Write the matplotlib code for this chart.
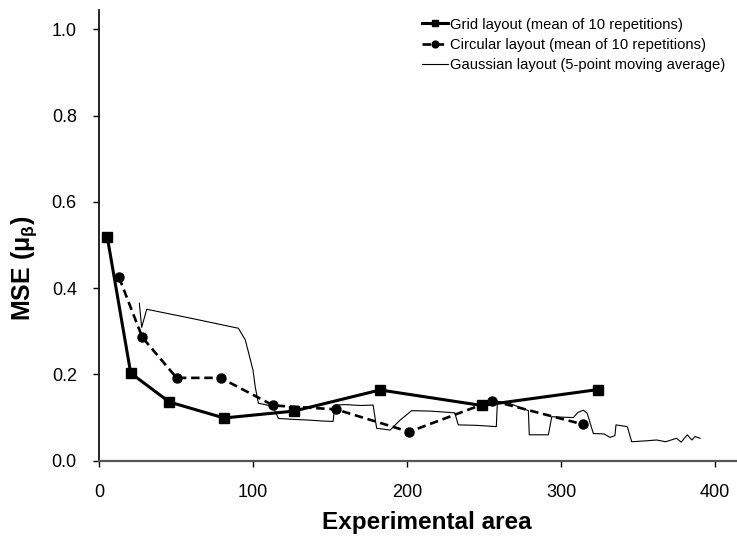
import matplotlib
matplotlib.use("Agg")
import matplotlib.pyplot as plt

plt.rcParams['font.family'] = ['Liberation Sans', 'DejaVu Sans']
plt.rcParams['mathtext.fontset'] = 'custom'
plt.rcParams['mathtext.rm'] = 'Liberation Sans:bold'
plt.rcParams['mathtext.it'] = 'Liberation Sans:bold'
plt.rcParams['mathtext.bf'] = 'Liberation Sans:bold'

grid_x = [5.4, 20.6, 45.7, 81.2, 126.6, 182.5, 248.5, 324.2]
grid_y = [0.518, 0.203, 0.136, 0.099, 0.115, 0.164, 0.128, 0.165]

circ_x = [13.0, 28.1, 50.4, 79.0, 113.2, 153.9, 201.4, 255.4, 314.5]
circ_y = [0.425, 0.286, 0.192, 0.192, 0.128, 0.119, 0.067, 0.139, 0.084]

gauss_x = [26.2, 27.7, 31.0, 60.0, 90.5, 95.0, 100.0, 101.5, 103.5, 108.0, 113.0,
           116.5, 125.0, 137.0, 145.0, 152.0, 153.2, 160.0, 170.0, 178.0, 180.3,
           185.0, 189.0, 195.5, 203.0, 215.0, 231.0, 233.3, 245.0, 258.0, 258.7,
           265.0, 278.8, 279.4, 291.8, 294.0, 300.0, 308.0, 311.0, 314.5, 317.0,
           321.0, 328.0, 331.8, 335.0, 335.7, 343.0, 343.7, 345.9, 355.0, 362.0,
           368.0, 375.0, 378.0, 382.0, 385.0, 387.0, 390.3]
gauss_y = [0.365, 0.309, 0.351, 0.330, 0.307, 0.280, 0.210, 0.170, 0.133, 0.130, 0.125,
           0.098, 0.096, 0.094, 0.092, 0.091, 0.129, 0.130, 0.128, 0.129, 0.075,
           0.073, 0.071, 0.094, 0.116, 0.115, 0.111, 0.083, 0.082, 0.079, 0.137,
           0.135, 0.116, 0.060, 0.060, 0.102, 0.101, 0.100, 0.112, 0.117, 0.110,
           0.063, 0.062, 0.054, 0.058, 0.083, 0.079, 0.071, 0.044, 0.046, 0.048,
           0.044, 0.052, 0.043, 0.060, 0.048, 0.056, 0.052]

x_ticks = [0, 100, 200, 300, 400]
y_ticks = [0.0, 0.2, 0.4, 0.6, 0.8, 1.0]
y_tick_labels = ['0.0', '0.2', '0.4', '0.6', '0.8', '1.0']

W, H = 737, 536
fig = plt.figure(figsize=(W/100, H/100), dpi=100)
ax = fig.add_axes([99/W, 1 - 460.7/H, 1 - 99/W, (460.7 - 10)/H])

ax.plot(gauss_x, gauss_y, color='black', lw=0.8,
        label='Gaussian layout (5-point moving average)', zorder=2)
ax.plot(grid_x, grid_y, color='black', lw=2.2, marker='s', ms=6.5,
        label='Grid layout (mean of 10 repetitions)', zorder=3)
ax.plot(circ_x, circ_y, color='black', lw=1.9, ls=(0, (3.2, 1.8)), marker='o', ms=6.5,
        label='Circular layout (mean of 10 repetitions)', zorder=3)

ax.set_xlim(0, (W - 99)/1.54)
ax.set_ylim(0, (460.7 - 10)/431.4)
ax.set_xticks(x_ticks)
ax.set_yticks(y_ticks)
ax.set_yticklabels(y_tick_labels)
ax.tick_params(direction='out', length=4, width=1, labelsize=13)
ax.tick_params(axis='x', pad=13)
ax.tick_params(axis='y', pad=12)
for s in ['top', 'right']:
    ax.spines[s].set_visible(False)
ax.spines['left'].set_linewidth(1.2)
ax.spines['bottom'].set_linewidth(1.6)
ax.spines['bottom'].set_color('#555555')

ax.set_xlabel('Experimental area', fontsize=17.5, fontweight='bold', va='center')
ax.xaxis.set_label_coords((427 - 99)/638, -(522 - 460.7)/450.7)
ax.set_ylabel(r'MSE (μ$_\beta$)', fontsize=18, fontweight='bold',
              rotation_mode='default', ha='center', va='bottom')
ax.yaxis.set_label_coords((24 - 99)/638, (460.7 - 321)/450.7)

h, l = ax.get_legend_handles_labels()
order = [1, 2, 0]
leg = ax.legend([h[i] for i in order], [l[i] for i in order], loc='upper left',
                bbox_to_anchor=((421.7 - 99)/638, 1 - 7.5/450.7), frameon=False,
                fontsize=10.6, handlelength=1.8, handletextpad=0.15, labelspacing=0.42,
                borderpad=0, borderaxespad=0, markerscale=0.75)

fig.savefig('out.png', dpi=100)
